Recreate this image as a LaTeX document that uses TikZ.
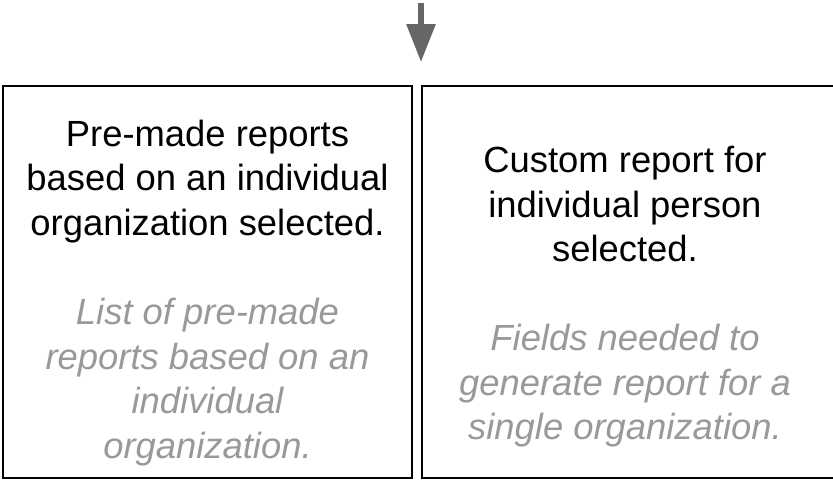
\documentclass[tikz,border=0pt]{standalone}
\usepackage{fontspec}
\setmainfont{Liberation Sans}
\usepackage{tikz}
\usetikzlibrary{arrows.meta, positioning}
\definecolor{arrowgray}{HTML}{666666}
\definecolor{notegray}{HTML}{999999}
\tikzstyle{report} = [draw=black, line width=1.5pt, outer sep=0pt, minimum width=306.75pt, minimum height=294pt, align=center, font=\fontsize{27.3pt}{33.4pt}\selectfont]
\tikzstyle{frame} = [draw=black, line width=1.5pt]
\tikzstyle{arrow} = [draw=arrowgray, line width=4.5pt, -{Triangle[length=28.5pt, width=21pt]}]
\newcommand{\greyline}[1]{{\color{notegray}\itshape #1}}
\begin{document}
\begin{tikzpicture}[x=0.75pt, y=-0.75pt]
  \clip (0,0) rectangle (833,480);
  \node[report] (premade) at (207.5,282) {\rule{0pt}{36pt}Pre-made reports\\based on an individual\\organization selected.\\[33.4pt]
    \greyline{List of pre-made}\\\greyline{reports based on an}\\\greyline{individual}\\\greyline{organization.}};
  \node[report, draw=none, right=7.5pt of premade, minimum width=304.5pt] (custom) {\rule{0pt}{42pt}Custom report for\\individual person\\selected.\\[33.4pt]
    \greyline{Fields needed to}\\\greyline{generate report for a}\\\greyline{single organization.}};
  % the right box runs off the edge of the page
  \draw[frame] ([xshift=15pt]custom.north east) -- (custom.north west) -- (custom.south west) -- ([xshift=15pt]custom.south east);

  \coordinate (source) at (421,3);
  \coordinate (entry) at (421,62);
  \draw[arrow] (source) -- (entry);
\end{tikzpicture}
\end{document}
